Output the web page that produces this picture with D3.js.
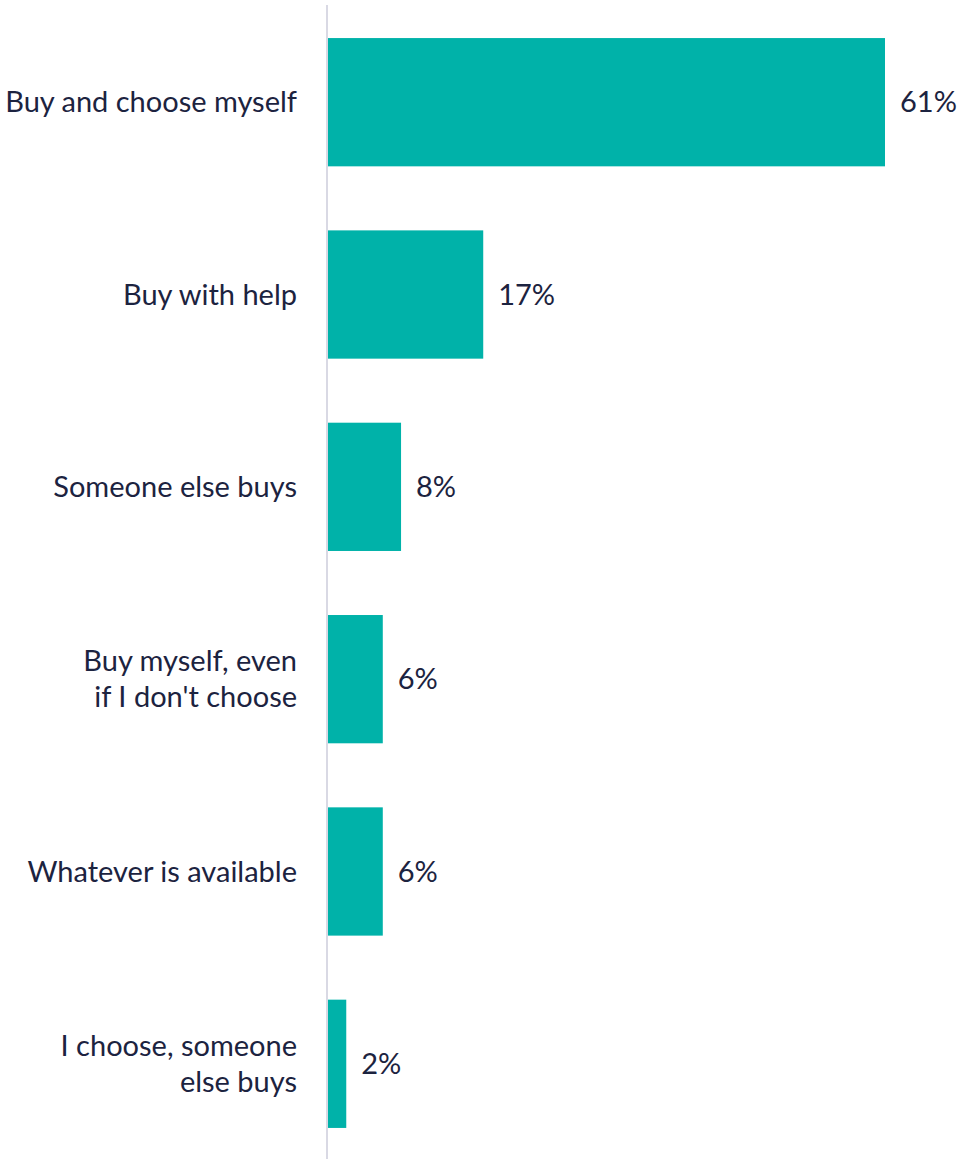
<!DOCTYPE html>
<html>
<head>
<meta charset="utf-8">
<script src="https://cdn.jsdelivr.net/npm/d3@7"></script>
<style>
  html, body { margin: 0; padding: 0; background: #ffffff; }
  svg { display: block; }
  text { font-family: Lato, "Open Sans", sans-serif; fill: #1c2340; }
</style>
</head>
<body>
<div id="chart"></div>
<script>
// Survey answers and their shares (percent)
const categories = [
  ["Buy and choose myself"],
  ["Buy with help"],
  ["Someone else buys"],
  ["Buy myself, even", "if I don't choose"],
  ["Whatever is available"],
  ["I choose, someone", "else buys"]
];
const values = [61, 17, 8, 6, 6, 2];
const valueLabels = ["61%", "17%", "8%", "6%", "6%", "2%"];

const width = 961, height = 1159;
const x0 = 328;
const fontSize = 29;

const svg = d3.select("#chart").append("svg")
  .attr("width", width).attr("height", height);

const keys = categories.map((c, i) => i);

const x = d3.scaleLinear().domain([0, 61]).range([x0, 885]);
const y = d3.scaleBand().domain(keys).range([6, 1160])
  .paddingInner(0.333).paddingOuter(0.1667);

// bars
svg.append("g").selectAll("rect")
  .data(values)
  .join("rect")
  .attr("x", x(0))
  .attr("y", (d, i) => y(i))
  .attr("width", d => x(d) - x(0))
  .attr("height", y.bandwidth())
  .attr("fill", "#00b2a9");

// category axis line
svg.append("line")
  .attr("x1", x0 - 1).attr("x2", x0 - 1)
  .attr("y1", 5).attr("y2", height)
  .attr("stroke", "#d9d9e4").attr("stroke-width", 2);

// category labels
const lineH = 36;
svg.append("g").selectAll("text")
  .data(categories)
  .join("text")
  .attr("text-anchor", "end")
  .attr("font-size", fontSize)
  .each(function(lines, i) {
    const cy = y(i) + y.bandwidth() / 2;
    const t = d3.select(this);
    lines.forEach((ln, j) => {
      t.append("tspan")
        .attr("x", 297)
        .attr("y", cy + (j - (lines.length - 1) / 2) * lineH)
        .attr("dy", "0.35em")
        .text(ln);
    });
  });

// value labels
svg.append("g").selectAll("text")
  .data(values)
  .join("text")
  .attr("x", d => x(d) + 15)
  .attr("y", (d, i) => y(i) + y.bandwidth() / 2)
  .attr("dy", "0.35em")
  .attr("font-size", fontSize)
  .text((d, i) => valueLabels[i]);
</script>
</body>
</html>
